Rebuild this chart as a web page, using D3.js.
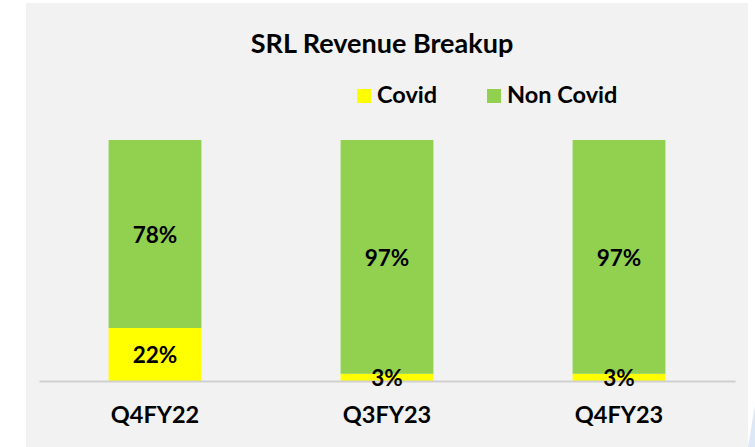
<!DOCTYPE html>
<html>
<head>
<meta charset="utf-8">
<script src="https://cdn.jsdelivr.net/npm/d3@7"></script>
<style>
  body { margin: 0; background: #ffffff; }
  text { font-family: Lato, "Open Sans", sans-serif; font-weight: bold; fill: #000; }
</style>
</head>
<body>
<div id="chart"></div>
<script>
// chart values
let quarters = ['Q4FY22', 'Q3FY23', 'Q4FY23'];
let covid = [22, 3, 3];
let nonCovid = [78, 97, 97];
let seriesNames = ['Covid', 'Non Covid'];
let seriesColors = ['#ffff00', '#92d050'];

function draw_chart() {
    let svgWidth = 755;
    let svgHeight = 447;
    let svg = d3.select('#chart').append('svg')
        .attr('width', svgWidth)
        .attr('height', svgHeight);

    // background panel
    svg.append('rect')
        .attr('x', 26).attr('y', 3)
        .attr('width', 722).attr('height', svgHeight - 3)
        .attr('fill', '#f2f2f2');

    // small decoration at bottom right corner
    svg.append('path')
        .attr('d', 'M748,447 L755,405 L755,447 Z')
        .attr('fill', '#dce8f6');

    let x = d3.scaleBand()
        .domain(quarters)
        .range([39, 735])
        .paddingInner(0.6)
        .paddingOuter(0.3);

    let y = d3.scaleLinear()
        .domain([0, 100])
        .range([381, 140]);

    // stack the two series
    let rows = quarters.map((q, i) => ({ q: q, Covid: covid[i], 'Non Covid': nonCovid[i] }));
    let stacked = d3.stack().keys(seriesNames)(rows);

    let groups = svg.append('g')
        .selectAll('g')
        .data(stacked)
        .enter()
        .append('g')
        .attr('fill', (d, i) => seriesColors[i]);

    groups.selectAll('rect')
        .data(d => d)
        .enter()
        .append('rect')
        .attr('x', d => x(d.data.q))
        .attr('y', d => y(d[1]))
        .attr('width', x.bandwidth())
        .attr('height', d => y(d[0]) - y(d[1]));

    // axis line
    let axis = d3.axisBottom(x).tickSize(0).tickPadding(0);
    let gx = svg.append('g')
        .attr('transform', `translate(0, ${y(0)})`)
        .call(axis);
    gx.select('.domain')
        .attr('stroke', '#d0d0d0')
        .attr('stroke-width', 1.8);
    gx.selectAll('.tick text')
        .attr('font-size', 23.5)
        .attr('font-family', 'Lato')
        .attr('font-weight', 'bold')
        .attr('fill', '#000')
        .attr('dy', null)
        .attr('y', 42);

    // value labels, drawn after all bars and the axis
    let labels = [];
    stacked.forEach(s => s.forEach(d => labels.push(d)));
    svg.append('g')
        .selectAll('text')
        .data(labels)
        .enter()
        .append('text')
        .attr('x', d => x(d.data.q) + x.bandwidth() / 2)
        .attr('y', d => (y(d[0]) + y(d[1])) / 2 + 9)
        .attr('text-anchor', 'middle')
        .attr('font-size', 22.5)
        .text(d => (d[1] - d[0]) + '%');

    // title
    svg.append('text')
        .attr('x', 382)
        .attr('y', 53)
        .attr('text-anchor', 'middle')
        .attr('font-size', 27)
        .text('SRL Revenue Breakup');

    // legend
    let legendX = [357, 487];
    let legend = svg.append('g')
        .selectAll('g')
        .data(seriesNames)
        .enter()
        .append('g')
        .attr('transform', (d, i) => `translate(${legendX[i]}, 0)`);
    legend.append('rect')
        .attr('x', 0).attr('y', 89)
        .attr('width', 14).attr('height', 14)
        .attr('fill', (d, i) => seriesColors[i]);
    legend.append('text')
        .attr('x', 20)
        .attr('y', 103)
        .attr('font-size', 23.5)
        .text(d => d);
}

draw_chart();
</script>
</body>
</html>
